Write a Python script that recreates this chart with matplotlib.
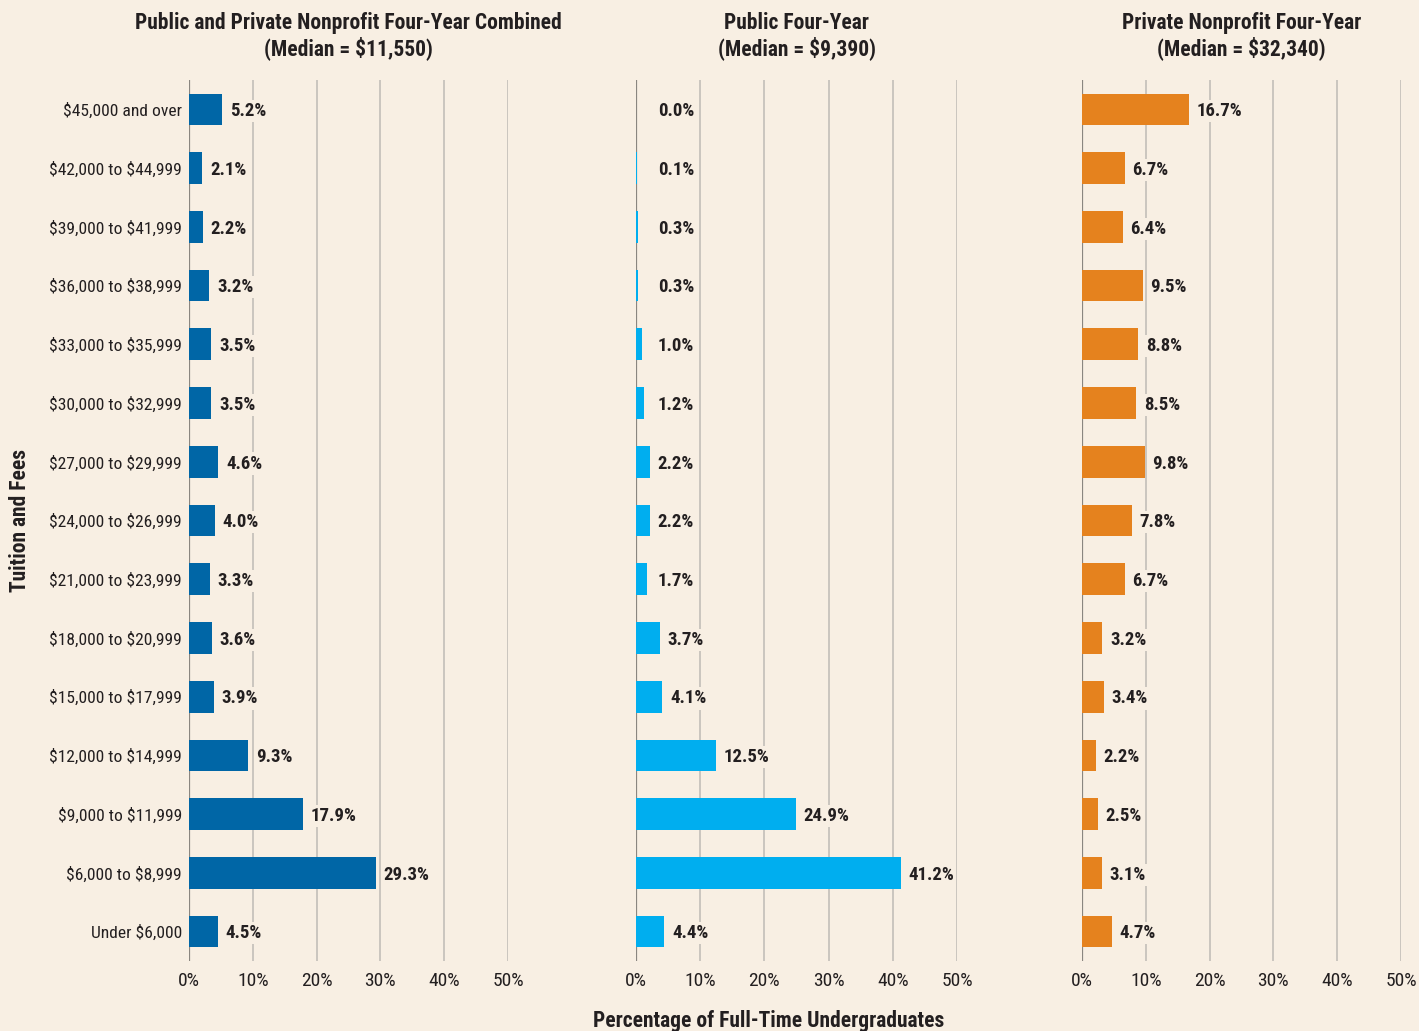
import matplotlib
matplotlib.use("Agg")
import matplotlib.pyplot as plt
from matplotlib import font_manager

# ---- data (top to bottom) ----
categories = ["$45,000 and over", "$42,000 to $44,999", "$39,000 to $41,999",
              "$36,000 to $38,999", "$33,000 to $35,999", "$30,000 to $32,999",
              "$27,000 to $29,999", "$24,000 to $26,999", "$21,000 to $23,999",
              "$18,000 to $20,999", "$15,000 to $17,999", "$12,000 to $14,999",
              "$9,000 to $11,999", "$6,000 to $8,999", "Under $6,000"]
combined = [5.2, 2.1, 2.2, 3.2, 3.5, 3.5, 4.6, 4.0, 3.3, 3.6, 3.9, 9.3, 17.9, 29.3, 4.5]
public = [0.0, 0.1, 0.3, 0.3, 1.0, 1.2, 2.2, 2.2, 1.7, 3.7, 4.1, 12.5, 24.9, 41.2, 4.4]
private = [16.7, 6.7, 6.4, 9.5, 8.8, 8.5, 9.8, 7.8, 6.7, 3.2, 3.4, 2.2, 2.5, 3.1, 4.7]
titles = [["Public and Private Nonprofit Four-Year Combined", "(Median = $11,550)"],
          ["Public Four-Year", "(Median = $9,390)"],
          ["Private Nonprofit Four-Year", "(Median = $32,340)"]]
xticks = [0, 10, 20, 30, 40, 50]
xticklabels = ["0%", "10%", "20%", "30%", "40%", "50%"]
colors = ["#0066a6", "#00aeef", "#e5821e"]

BG = "#f8efe3"
plt.rcParams["text.parse_math"] = False
names = {f.name for f in font_manager.fontManager.ttflist}
fam = "DejaVu Sans"
for cand in ["Roboto Condensed", "Liberation Sans Narrow", "Roboto", "Liberation Sans"]:
    if cand in names:
        fam = cand
        break
plt.rcParams["font.family"] = [fam, "DejaVu Sans"]
TXT = "#231f20"

fig = plt.figure(figsize=(14.19, 10.31), dpi=100, facecolor=BG)
lefts = [189/1419, 636/1419, 1082/1419]
widths = [319/1419, 321/1419, 319/1419]
bottom = 1 - 961/1031
height = (961 - 80) / 1031
series = [combined, public, private]
n = len(categories)
ypos = list(range(n))

for i in range(3):
    ax = fig.add_axes([lefts[i], bottom, widths[i], height])
    ax.set_facecolor(BG)
    vals = series[i]
    ax.barh(ypos, vals, height=0.54, color=colors[i], zorder=3)
    ax.set_xlim(0, 50)
    ax.set_ylim(n - 0.5, -0.5)
    for x in xticks[1:]:
        ax.axvline(x, color="#c2beb8", lw=1.2, zorder=1)
    ax.axvline(0, color="#8a8680", lw=1.6, zorder=2)
    for sp in ax.spines.values():
        sp.set_visible(False)
    ax.set_xticks(xticks)
    ax.set_xticklabels(xticklabels, fontsize=14, color=TXT)
    ax.tick_params(axis="both", length=0, pad=8)
    ax.tick_params(axis="y", pad=5)
    if i == 0:
        ax.set_yticks(ypos)
        ax.set_yticklabels(categories, fontsize=12.6, color=TXT)
    else:
        ax.set_yticks([])
    for y, v in zip(ypos, vals):
        ax.text(max(v, 2.2) + 1.2, y + 0.03, f"{v:.1f}%", va="center", ha="left",
                fontsize=13.5, fontweight="bold", color=TXT, zorder=5,
                bbox=dict(facecolor=BG, edgecolor="none", pad=1.5))
    cx = lefts[i] + widths[i] / 2
    for j, line in enumerate(titles[i]):
        fig.text(cx, 1 - (23 + 25 * j) / 1031, line, ha="center", va="center",
                 fontsize=15.5, fontweight="bold", color=TXT)

fig.text(20/1419, 1 - 520/1031, "Tuition and Fees", rotation=90, ha="center",
         va="center", fontsize=15.5, fontweight="bold", color=TXT)
fig.text(769/1419, 1 - 1021/1031, "Percentage of Full-Time Undergraduates",
         ha="center", va="center", fontsize=15.5, fontweight="bold", color=TXT)

fig.savefig("out.png", dpi=100, facecolor=BG)
